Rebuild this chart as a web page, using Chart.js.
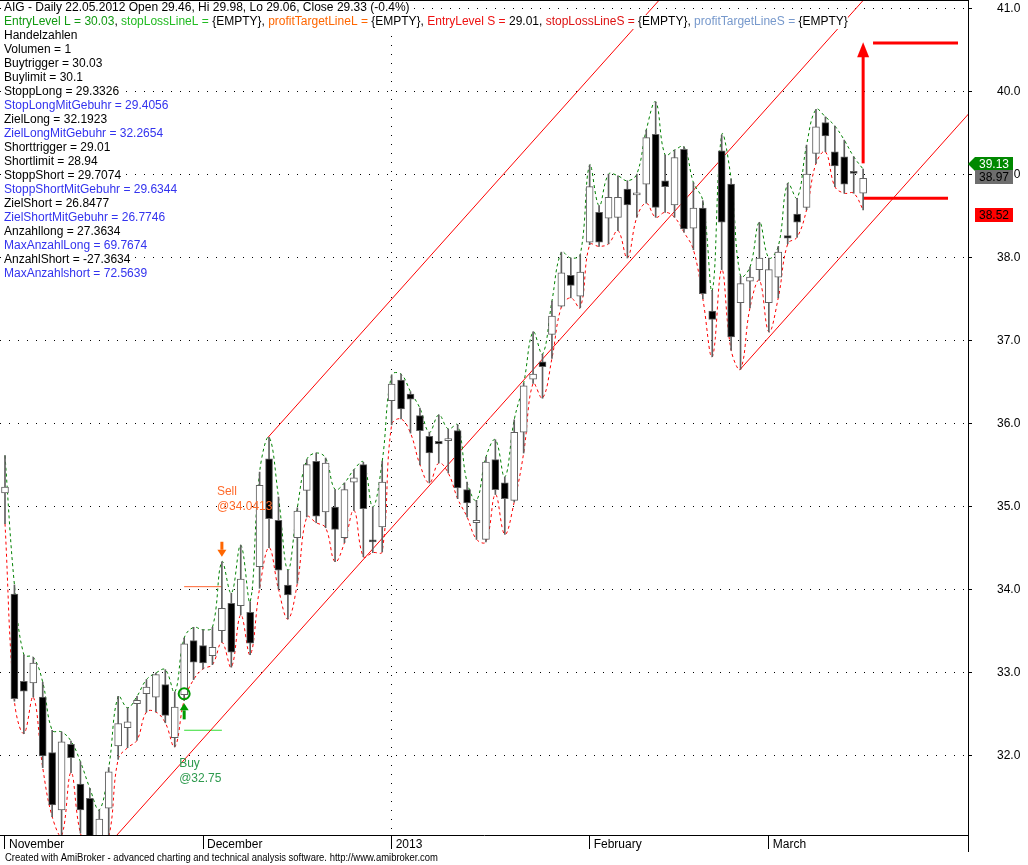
<!DOCTYPE html>
<html>
<head>
<meta charset="utf-8">
<script src="https://cdn.jsdelivr.net/npm/chart.js@4.4.0/dist/chart.umd.min.js"></script>
<style>
html, body { margin: 0; padding: 0; background: #fff; }
#wrap { width: 1028px; height: 865px; }
</style>
</head>
<body>
<div id="wrap"><canvas id="aigChart" width="1028" height="865"></canvas></div>
<script>
// AIG daily bars, Nov 2012 - mid Mar 2013 (bar index 0 = first bar of November)
const opens = [35.17, 33.95, 32.90, 32.88, 32.71, 32.04, 31.35, 32.14, 31.66, 31.49,
  30.98, 31.37, 32.12, 32.34, 32.63, 32.75, 32.71, 32.86, 32.22, 32.74,
  33.39, 33.33, 33.21, 33.51, 33.84, 33.81, 33.73, 34.28, 35.58, 34.84,
  34.06, 34.63, 35.20, 35.55, 34.94, 35.00, 34.63, 35.30, 35.51, 34.60,
  34.76, 36.28, 36.53, 36.36, 36.10, 35.85, 35.79, 35.80, 35.92, 35.21,
  34.81, 34.61, 35.57, 35.29, 35.08, 35.90, 36.54, 36.75, 37.08, 37.42,
  37.79, 37.54, 38.19, 38.55, 38.48, 38.49, 38.83, 38.76, 38.89, 39.49,
  38.93, 38.64, 39.31, 38.36, 38.60, 37.36, 39.29, 38.89, 37.46, 37.72,
  37.86, 37.46, 37.77, 38.27, 38.53, 38.61, 39.26, 39.63, 39.28, 39.22,
  39.03, 38.78];
const highs = [35.62, 34.06, 33.22, 33.19, 32.89, 32.31, 32.29, 32.18, 31.93, 31.61,
  31.35, 31.86, 32.72, 32.58, 32.72, 32.92, 33.00, 33.04, 32.77, 33.42,
  33.55, 33.52, 33.55, 34.34, 33.96, 34.54, 33.86, 35.42, 35.84, 35.12,
  34.24, 34.99, 35.57, 35.65, 35.59, 35.21, 35.29, 35.45, 35.54, 35.00,
  35.55, 36.59, 36.60, 36.39, 36.19, 35.90, 36.11, 35.94, 35.99, 35.30,
  35.08, 35.60, 35.81, 35.36, 36.05, 36.49, 37.11, 36.84, 37.48, 38.07,
  38.00, 38.04, 39.12, 38.63, 39.01, 38.99, 38.93, 39.01, 39.54, 39.88,
  39.24, 39.30, 39.34, 38.91, 38.69, 37.61, 39.48, 38.95, 37.78, 37.89,
  38.43, 38.00, 38.14, 38.90, 38.72, 39.36, 39.79, 39.70, 39.59, 39.42,
  39.22, 39.07];
const lows = [34.80, 32.66, 32.27, 32.71, 31.86, 31.27, 31.04, 31.80, 31.07, 30.90,
  30.90, 31.02, 31.96, 32.10, 32.19, 32.53, 32.53, 32.40, 32.11, 32.67,
  32.92, 33.05, 33.10, 33.37, 33.07, 33.70, 33.22, 34.02, 34.51, 34.01,
  33.65, 34.08, 34.88, 34.81, 34.75, 34.34, 34.57, 34.96, 34.40, 34.45,
  34.46, 35.99, 36.06, 35.89, 35.51, 35.29, 35.53, 35.41, 35.10, 34.88,
  34.61, 34.58, 35.15, 34.67, 35.06, 35.65, 36.49, 36.31, 36.79, 37.41,
  37.52, 37.40, 38.16, 38.14, 38.17, 38.33, 38.00, 38.49, 38.66, 38.49,
  38.55, 38.49, 38.31, 38.10, 37.51, 36.81, 37.86, 36.89, 36.66, 37.40,
  37.73, 37.11, 37.52, 38.17, 38.25, 38.58, 39.14, 39.28, 38.86, 38.78,
  38.78, 38.58];
const closes = [35.24, 32.69, 32.78, 33.12, 32.00, 31.41, 32.17, 31.98, 31.35, 30.98,
  31.24, 31.81, 32.39, 32.41, 32.67, 32.83, 32.98, 32.49, 32.59, 33.35,
  33.13, 33.12, 33.31, 33.78, 33.25, 34.13, 33.36, 35.26, 34.86, 34.24,
  33.94, 34.95, 35.51, 34.89, 35.53, 34.73, 35.21, 35.35, 34.98, 34.58,
  35.30, 36.48, 36.18, 36.30, 35.92, 35.65, 35.76, 35.80, 35.23, 35.05,
  34.84, 35.54, 35.21, 35.10, 35.90, 36.46, 36.60, 36.69, 37.30, 37.82,
  37.67, 37.83, 38.86, 38.19, 38.73, 38.73, 38.64, 38.78, 39.45, 38.61,
  38.86, 39.21, 38.35, 38.60, 37.57, 37.26, 38.43, 37.05, 37.69, 37.77,
  38.00, 37.86, 38.07, 38.24, 38.43, 39.01, 39.58, 39.47, 39.11, 38.89,
  39.02, 38.96];

const monthTicks = [0, 21, 41, 62, 81];
const monthNames = ['November', 'December', '2013', 'February', 'March'];

const yMin = 31.048, yMax = 41.108;
const xMin = -0.53, xMax = 102.12;

// trend channel, [bar index, price]
const channelUpper = [[27.9, 35.84], [70.5, 41.25]];
const channelMid = [[10, 30.81], [92, 41.23]];
const channelLower = [[77.9, 36.65], [103, 39.84]];

// short level lines and target lines
const sellLevel = [[19, 34.04], [23, 34.04]];
const buyLevel = [[19, 32.31], [23, 32.31]];
const targetUp = [[92.05, 40.59], [101.06, 40.59]];
const targetBase = [[91, 38.72], [100, 38.72]];
const targetArrow = [91, 39.14, 40.60];

const buyBar = 19, buyPrice = 32.75;
const sellBar = 23;

const titleText = 'AIG - Daily 22.05.2012 Open 29.46, Hi 29.98, Lo 29.06, Close 29.33 (-0.4%)';
const legendParts = [
  ['EntryLevel L = 30.03', '#119911'], [', ', '#000'],
  ['stopLossLineL = ', '#22bb22'], ['{EMPTY}', '#000'], [', ', '#000'],
  ['profitTargetLineL = ', '#ff6600'], ['{EMPTY}', '#000'], [', ', '#000'],
  ['EntryLevel S = ', '#ee1111'], ['29.01', '#000'], [', ', '#000'],
  ['stopLossLineS = ', '#dd1111'], ['{EMPTY}', '#000'], [', ', '#000'],
  ['profitTargetLineS = ', '#7799cc'], ['{EMPTY}', '#000']
];
const paramLines = [
  ['Handelzahlen', '#000'], ['Volumen = 1', '#000'], ['Buytrigger = 30.03', '#000'],
  ['Buylimit = 30.1', '#000'], ['StoppLong = 29.3326', '#000'],
  ['StopLongMitGebuhr = 29.4056', '#3333ee'], ['ZielLong = 32.1923', '#000'],
  ['ZielLongMitGebuhr = 32.2654', '#3333ee'], ['Shorttrigger = 29.01', '#000'],
  ['Shortlimit = 28.94', '#000'], ['StoppShort = 29.7074', '#000'],
  ['StoppShortMitGebuhr = 29.6344', '#3333ee'], ['ZielShort = 26.8477', '#000'],
  ['ZielShortMitGebuhr = 26.7746', '#3333ee'], ['Anzahllong = 27.3634', '#000'],
  ['MaxAnzahlLong = 69.7674', '#3333ee'], ['AnzahlShort = -27.3634', '#000'],
  ['MaxAnzahlshort = 72.5639', '#3333ee']
];
const priceTags = [
  [39.13, '39.13', '#008800', '#fff', true],
  [38.97, '38.97', '#6e6e6e', '#000', false],
  [38.52, '38.52', '#ff0000', '#000', false]
];
const footerText = 'Created with AmiBroker - advanced charting and technical analysis software. http://www.amibroker.com';

const FONT = '"Liberation Sans", Arial, sans-serif';
Chart.defaults.font.family = FONT;
Chart.defaults.font.size = 12;
Chart.defaults.color = '#000';

const pts = arr => arr.map(p => ({x: p[0], y: p[1]}));
function lineDs(data, color, width) {
    return {type: 'line', data: pts(data), borderColor: color, borderWidth: width,
        pointRadius: 0, fill: false, tension: 0, order: 5};
}

function textBg(ctx, str, x, yc, color) {
    const w = ctx.measureText(str).width;
    ctx.fillStyle = '#fff';
    ctx.fillRect(x, yc - 7, w, 14);
    ctx.fillStyle = color;
    ctx.fillText(str, x, yc);
    return x + w;
}

const overlay = {
    id: 'overlay',
    afterDatasetsDraw(chart) {
        const {ctx, scales: {x, y}} = chart;
        ctx.save();
        // buy marker
        const bx = x.getPixelForValue(buyBar);
        ctx.strokeStyle = '#009900';
        ctx.lineWidth = 2;
        ctx.beginPath();
        ctx.arc(bx, y.getPixelForValue(buyPrice), 5.5, 0, Math.PI * 2);
        ctx.stroke();
        const gTip = y.getPixelForValue(lows[buyBar]) + 3;
        ctx.fillStyle = '#009900';
        ctx.beginPath();
        ctx.moveTo(bx, gTip);
        ctx.lineTo(bx + 4.5, gTip + 7);
        ctx.lineTo(bx - 4.5, gTip + 7);
        ctx.closePath();
        ctx.fill();
        ctx.fillRect(bx - 1.5, gTip + 7, 3, 9);
        // sell marker
        const sx = x.getPixelForValue(sellBar);
        const oTip = y.getPixelForValue(highs[sellBar]) - 5;
        ctx.fillStyle = '#ff6600';
        ctx.beginPath();
        ctx.moveTo(sx, oTip);
        ctx.lineTo(sx + 4.5, oTip - 7);
        ctx.lineTo(sx - 4.5, oTip - 7);
        ctx.closePath();
        ctx.fill();
        ctx.fillRect(sx - 1.5, oTip - 15, 3, 8);
        // target arrow
        const ax = x.getPixelForValue(targetArrow[0]);
        const aTop = y.getPixelForValue(targetArrow[2]);
        ctx.strokeStyle = '#ff0000';
        ctx.lineWidth = 3;
        ctx.beginPath();
        ctx.moveTo(ax, y.getPixelForValue(targetArrow[1]));
        ctx.lineTo(ax, aTop + 14);
        ctx.stroke();
        ctx.fillStyle = '#ff0000';
        ctx.beginPath();
        ctx.moveTo(ax, aTop);
        ctx.lineTo(ax + 6, aTop + 15);
        ctx.lineTo(ax - 6, aTop + 15);
        ctx.closePath();
        ctx.fill();
        // signal texts
        ctx.font = '12px ' + FONT;
        ctx.textBaseline = 'middle';
        ctx.fillStyle = '#ff6a2a';
        ctx.fillText('Sell', sx - 5, oTip - 65);
        ctx.fillText('@34.0413', sx - 5, oTip - 50);
        ctx.fillStyle = '#2e9a4e';
        ctx.fillText('Buy', bx - 5, gTip + 60);
        ctx.fillText('@32.75', bx - 5, gTip + 75);
        ctx.restore();
    },
    afterDraw(chart) {
        const {ctx, chartArea, scales: {y}} = chart;
        ctx.save();
        // frame bits
        ctx.strokeStyle = '#000';
        ctx.lineWidth = 1;
        ctx.beginPath();
        ctx.moveTo(0, 0.5);
        ctx.lineTo(chartArea.right, 0.5);
        ctx.moveTo(chartArea.right + 0.5, chartArea.bottom);
        ctx.lineTo(chartArea.right + 0.5, chartArea.bottom + 17);
        ctx.stroke();
        // title and parameters
        ctx.font = '12px ' + FONT;
        ctx.textBaseline = 'middle';
        textBg(ctx, titleText, 4, 8, '#000');
        let lx = 4;
        legendParts.forEach(p => { lx = textBg(ctx, p[0], lx, 22, p[1]); });
        paramLines.forEach((p, i) => { textBg(ctx, p[0], 4, 36 + i * 14, p[1]); });
        // price tags on the axis
        ctx.textAlign = 'center';
        priceTags.forEach(t => {
            const py = Math.round(y.getPixelForValue(t[0]));
            ctx.fillStyle = t[2];
            ctx.beginPath();
            if (t[4]) {
                ctx.moveTo(chartArea.right, py);
                ctx.lineTo(975, py - 7);
            } else {
                ctx.moveTo(975, py - 7);
            }
            ctx.lineTo(1013, py - 7);
            ctx.lineTo(1013, py + 7);
            ctx.lineTo(975, py + 7);
            ctx.closePath();
            ctx.fill();
            ctx.fillStyle = t[3];
            ctx.fillText(t[1], 994, py + 0.5);
        });
        // footer
        ctx.textAlign = 'left';
        ctx.font = '10px ' + FONT;
        const fw = ctx.measureText(footerText).width;
        ctx.translate(5, 858);
        ctx.scale(433 / fw, 1);
        ctx.fillStyle = '#000';
        ctx.fillText(footerText, 0, 0);
        ctx.restore();
    }
};

const idx = opens.map((v, i) => i);

new Chart(document.getElementById('aigChart'), {
    type: 'bar',
    data: {
        datasets: [
            {
                label: 'body',
                data: idx.map(i => ({x: i, y: [opens[i], closes[i]]})),
                backgroundColor: idx.map(i => closes[i] >= opens[i] ? '#ffffff' : '#000000'),
                borderColor: '#606060',
                borderWidth: 1,
                borderSkipped: false,
                barThickness: 7,
                minBarLength: 2,
                grouped: false,
                order: 0
            },
            {
                label: 'wick',
                data: idx.map(i => ({x: i, y: [lows[i], highs[i]]})),
                backgroundColor: '#606060',
                borderWidth: 0,
                barThickness: 1,
                grouped: false,
                order: 1
            },
            {
                type: 'line', label: 'upper',
                data: idx.map(i => ({x: i, y: highs[i]})),
                borderColor: '#008000', borderWidth: 1, borderDash: [3, 3],
                pointRadius: 0, fill: false, tension: 0.4, order: 3
            },
            {
                type: 'line', label: 'lower',
                data: idx.map(i => ({x: i, y: lows[i]})),
                borderColor: '#ff0000', borderWidth: 1, borderDash: [3, 3],
                pointRadius: 0, fill: false, tension: 0.4, order: 3
            },
            lineDs(channelUpper, '#ff0000', 1),
            lineDs(channelMid, '#ff0000', 1),
            lineDs(channelLower, '#ff0000', 1),
            lineDs(sellLevel, '#ff6633', 1),
            lineDs(buyLevel, '#33dd33', 1),
            lineDs(targetUp, '#ff0000', 3),
            lineDs(targetBase, '#ff0000', 3)
        ]
    },
    options: {
        responsive: false,
        animation: false,
        devicePixelRatio: 1,
        layout: { padding: { left: 0, right: 0, top: 0, bottom: 12 } },
        plugins: {
            legend: { display: false },
            tooltip: { enabled: false }
        },
        scales: {
            x: {
                type: 'linear',
                min: xMin,
                max: xMax,
                offset: false,
                afterBuildTicks: s => { s.ticks = monthTicks.map(v => ({value: v})); },
                afterFit: s => { s.height = 18; s.paddingLeft = 0; s.paddingRight = 0; },
                grid: {
                    offset: false,
                    color: c => (c.tick && c.tick.value === 41) ? '#000' : 'rgba(0,0,0,0)',
                    tickColor: '#000',
                    tickLength: 14,
                    lineWidth: 1
                },
                border: { display: true, color: '#000', width: 1, dash: [1, 8] },
                ticks: {
                    autoSkip: false,
                    maxRotation: 0,
                    align: 'start',
                    labelOffset: 4,
                    padding: -12,
                    callback: (v, i) => monthNames[i]
                }
            },
            y: {
                type: 'linear',
                position: 'right',
                min: yMin,
                max: yMax,
                afterFit: s => { s.width = 60; s.paddingTop = 0; s.paddingBottom = 0; },
                grid: { color: '#000', tickColor: '#000', tickLength: 4, lineWidth: 1 },
                border: { display: true, color: '#000', width: 1, dash: [1, 8] },
                ticks: {
                    stepSize: 1,
                    includeBounds: false,
                    padding: 25,
                    callback: v => v.toFixed(1)
                }
            }
        }
    },
    plugins: [overlay]
});
</script>
</body>
</html>
